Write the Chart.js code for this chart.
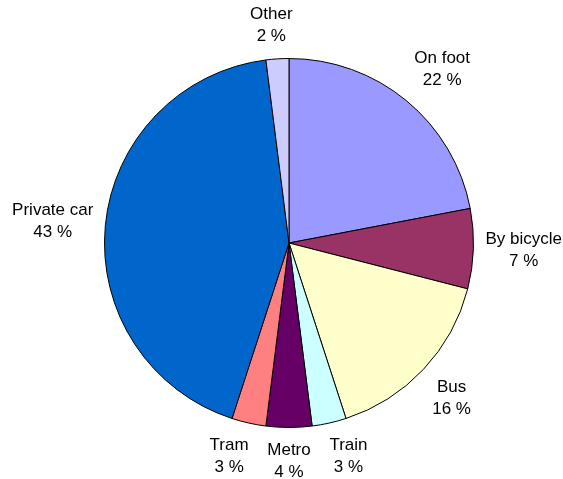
<!DOCTYPE html>
<html>
<head>
<meta charset="utf-8">
<script src="https://cdn.jsdelivr.net/npm/chart.js@4"></script>
<style>
html,body{margin:0;padding:0;background:#fff;}
#wrap{width:563px;height:479px;position:relative;}
</style>
</head>
<body>
<div id="wrap"><canvas id="c" width="563" height="479"></canvas></div>
<script>
const categories = ["On foot", "By bicycle", "Bus", "Train", "Metro", "Tram", "Private car", "Other"];
const shares = [22, 7, 16, 3, 4, 3, 43, 2];
const percentLabels = ["22 %", "7 %", "16 %", "3 %", "4 %", "3 %", "43 %", "2 %"];
const sliceColors = ["#9999FF", "#993366", "#FFFFCC", "#CCFFFF", "#660066", "#FF8080", "#0066CC", "#CCCCFF"];

const FONT = '17px "Liberation Sans", Arial, sans-serif';
const LINE_H = 22;

const outsideLabels = {
  id: 'outsideLabels',
  afterDatasetsDraw(chart) {
    const ctx = chart.ctx;
    const meta = chart.getDatasetMeta(0);
    ctx.save();
    ctx.font = FONT;
    ctx.fillStyle = '#000';
    ctx.textAlign = 'center';
    ctx.textBaseline = 'middle';
    meta.data.forEach((arc, i) => {
      const mid = (arc.startAngle + arc.endAngle) / 2;
      const cx = arc.x, cy = arc.y, R = arc.outerRadius;
      const lines = [categories[i], percentLabels[i]];
      const w = Math.max(...lines.map(l => ctx.measureText(l).width));
      const h = LINE_H * lines.length;
      const d = 12;
      const dx = Math.cos(mid), dy = Math.sin(mid);
      const fx = Math.sign(dx) * Math.min(1, Math.abs(dx) * 4);
      const fy = Math.sign(dy) * Math.min(1, Math.abs(dy) * 1.4);
      const x = cx + (R + d) * dx + (w / 2) * fx;
      const y = cy + (R + d) * dy + (h / 2) * fy;
      lines.forEach((l, k) => {
        ctx.fillText(l, x, y - h / 2 + LINE_H * (k + 0.5));
      });
    });
    ctx.restore();
  }
};

new Chart(document.getElementById('c'), {
  type: 'pie',
  data: {
    labels: categories,
    datasets: [{
      data: shares,
      backgroundColor: sliceColors,
      borderColor: '#000',
      borderWidth: 1
    }]
  },
  options: {
    responsive: false,
    animation: false,
    layout: { padding: { left: 104, right: 89, top: 58, bottom: 51 } },
    plugins: {
      legend: { display: false },
      tooltip: { enabled: false }
    }
  },
  plugins: [outsideLabels]
});
</script>
</body>
</html>
